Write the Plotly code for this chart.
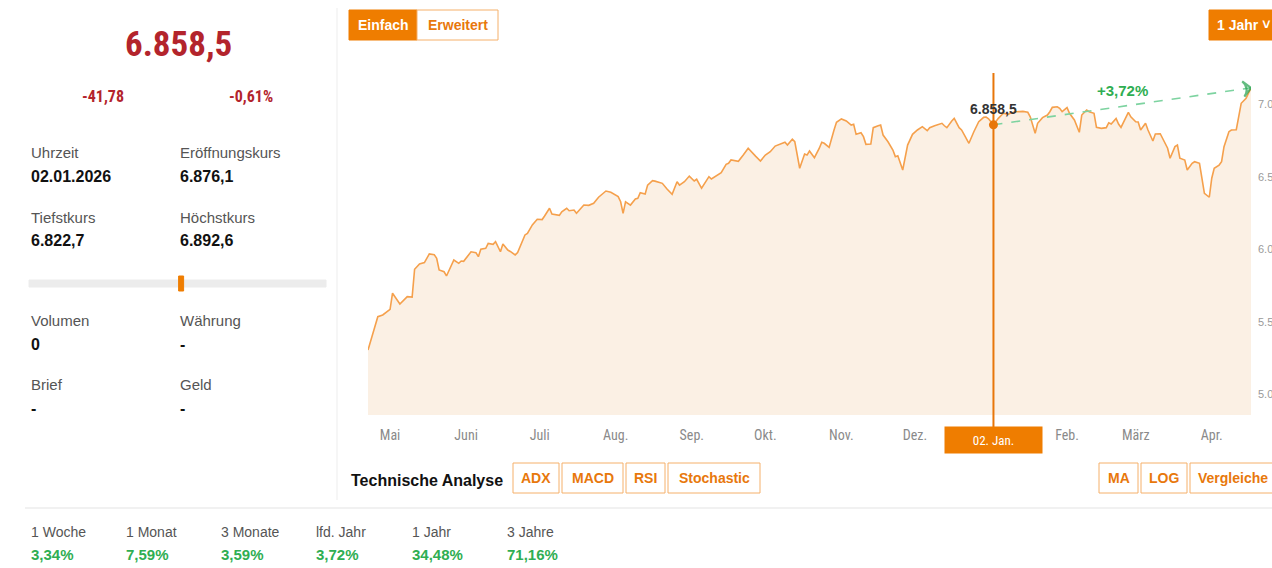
import plotly.graph_objects as go
import pandas as pd

W, H = 1272, 568

# ---------------- data ----------------
BASE_DATE = "2026-01-02"          # crosshair date (02.01.2026)
# trading-day positions, in days relative to 02.01.2026, and closing values
day_offset = [-255, -252, -251, -249, -247, -246, -245, -242, -239, -237, -236, -234, -232, -230, -228, -227,
              -226, -224, -223, -221, -220, -218, -217, -216, -215, -213, -211, -210, -209, -207, -206, -204,
              -203, -201, -200, -198, -197, -195, -194, -191, -190, -188, -186, -184, -183, -181, -180, -177,
              -176, -174, -173, -171, -170, -167, -165, -163, -161, -160, -158, -156, -153, -152, -151, -150,
              -148, -146, -145, -144, -142, -141, -139, -138, -136, -135, -133, -131, -129, -128, -126, -124,
              -122, -121, -119, -116, -115, -113, -111, -109, -108, -107, -105, -104, -102, -100, -97, -95,
              -93, -91, -89, -87, -85, -84, -82, -81, -79, -77, -76, -75, -73, -71, -70, -69,
              -67, -65, -64, -62, -60, -58, -57, -56, -54, -53, -52, -50, -49, -47, -46, -45,
              -43, -41, -40, -39, -37, -35, -33, -31, -30, -29, -27, -26, -24, -22, -21, -20,
              -19, -17, -16, -14, -13, -12, -10, -8, -6, -4, -3, -2, 0, 2, 4, 6,
              7, 9, 12, 14, 15, 17, 18, 20, 22, 23, 24, 26, 27, 28, 30, 31,
              33, 35, 36, 38, 39, 41, 42, 44, 46, 47, 48, 50, 51, 52, 55, 56,
              58, 59, 60, 62, 63, 65, 66, 68, 69, 71, 72, 74, 75, 76, 78, 79,
              81, 82, 84, 85, 86, 88, 89, 90, 92, 93, 94, 96, 97, 99, 100, 101,
              103, 105]
close = [5305, 5490, 5535, 5547, 5574, 5586, 5697, 5623, 5673, 5670, 5862, 5899, 5908, 5968, 5963, 5938,
         5857, 5845, 5816, 5892, 5926, 5903, 5919, 5917, 5938, 5983, 5977, 5949, 6000, 6007, 6041, 6034,
         6052, 5983, 6036, 5995, 5985, 5961, 5977, 6099, 6110, 6168, 6207, 6205, 6230, 6283, 6243, 6234,
         6259, 6283, 6266, 6271, 6248, 6305, 6303, 6317, 6359, 6374, 6402, 6393, 6363, 6328, 6248, 6328,
         6305, 6347, 6352, 6390, 6381, 6443, 6473, 6470, 6459, 6455, 6414, 6379, 6466, 6443, 6466, 6505,
         6471, 6483, 6421, 6501, 6485, 6505, 6528, 6586, 6593, 6616, 6609, 6607, 6650, 6697, 6643, 6609,
         6650, 6673, 6712, 6724, 6738, 6719, 6759, 6742, 6559, 6657, 6650, 6678, 6632, 6697, 6738, 6731,
         6703, 6823, 6876, 6899, 6885, 6857, 6862, 6793, 6804, 6777, 6724, 6726, 6839, 6852, 6857, 6788,
         6742, 6685, 6639, 6645, 6547, 6719, 6793, 6823, 6834, 6846, 6818, 6839, 6852, 6862, 6869, 6852,
         6839, 6885, 6903, 6839, 6823, 6793, 6731, 6811, 6880, 6910, 6912, 6900.3, 6858.5, 6903, 6938, 6931,
         6940, 6949, 6951, 6945, 6914, 6800, 6869, 6908, 6926, 6949, 6979, 6983, 6972, 6949, 6977, 6938,
         6892, 6807, 6926, 6961, 6949, 6938, 6841, 6834, 6839, 6873, 6864, 6903, 6864, 6841, 6945, 6914,
         6880, 6878, 6823, 6869, 6823, 6747, 6795, 6797, 6766, 6697, 6628, 6708, 6719, 6628, 6616, 6547,
         6593, 6604, 6593, 6501, 6386, 6359, 6490, 6559, 6581, 6604, 6708, 6811, 6823, 6825, 6914, 7007,
         7041, 7113.6]

month_ticks = ["2025-05-01", "2025-06-01", "2025-07-01", "2025-08-01", "2025-09-01", "2025-10-01",
               "2025-11-01", "2025-12-01", "2026-02-01", "2026-03-01", "2026-04-01"]
month_labels = ["Mai", "Juni", "Juli", "Aug.", "Sep.", "Okt.", "Nov.", "Dez.", "Feb.", "März", "Apr."]
y_ticks = [5000, 5500, 6000, 6500, 7000]
# right-hand axis labels, cut off by the window edge in the original ("7.0…")
y_labels = ["5.0", "5.5", "6.0", "6.5", "7.0"]

last_price = 6858.5
change_abs = -41.78
change_pct = -0.61
quote_time = "02.01.2026"
open_price = 6876.1
low_price = 6822.7
high_price = 6892.6
volume = "0"
currency = "-"
ask = "-"
bid = "-"

perf_labels = ["1 Woche", "1 Monat", "3 Monate", "lfd. Jahr", "1 Jahr", "3 Jahre"]
perf_values = [3.34, 7.59, 3.59, 3.72, 34.48, 71.16]

# ---------------- helpers ----------------
def de(v, d=1):
    s = f"{v:,.{d}f}"
    return s.replace(",", "X").replace(".", ",").replace("X", ".")

def X(px):
    return px / W

def Y(py):
    return 1 - py / H

ORANGE = "#ef7d00"
ORANGE_T = "#e8780c"
ORANGE_B = "#f5b06a"
RED = "#b3242c"
GREEN = "#2fae52"
SANS = "Liberation Sans, Arial, sans-serif"
NARROW = "Liberation Sans Narrow, Roboto Condensed, DejaVu Sans Condensed, Liberation Sans, sans-serif"

dates = pd.Timestamp(BASE_DATE) + pd.to_timedelta(day_offset, unit="D")
base = pd.Timestamp(BASE_DATE)
base_val = close[day_offset.index(0)]

annotations = []
shapes = []

def txt(x, y, s, size=15, color="#555", weight="normal", anchor="left", family=SANS):
    annotations.append(dict(x=X(x), y=Y(y), xref="paper", yref="paper", text=s, showarrow=False,
                            xanchor=anchor, yanchor="middle",
                            font=dict(size=size, color=color, family=family, weight=weight)))

def rect(x0, y0, x1, y1, fill, line=None, lw=1):
    shapes.append(dict(type="rect", xref="paper", yref="paper", x0=X(x0), x1=X(x1), y0=Y(y0), y1=Y(y1),
                       fillcolor=fill, line=dict(color=line or fill, width=lw), layer="above"))

# ---------------- figure ----------------
fig = go.Figure()
fig.add_trace(go.Scatter(x=dates, y=close, mode="lines", fill="tozeroy",
                         fillcolor="#fbf0e4", line=dict(color="#f5a04c", width=1.6),
                         hoverinfo="skip"))

# performance arrow from crosshair point to last value
perf = (close[-1] / base_val - 1) * 100
fig.add_trace(go.Scatter(x=[base, dates[-1]], y=[base_val, close[-1]], mode="lines+markers",
                         line=dict(color="#7dd3a0", width=1.6, dash="dash"),
                         marker=dict(symbol=["circle", "arrow-wide-open"], size=[0, 11], color="#22a04b",
                                     angleref="previous", line=dict(width=2.2, color="#22a04b")),
                         hoverinfo="skip"))
# crosshair point
fig.add_trace(go.Scatter(x=[base], y=[base_val], mode="markers",
                         marker=dict(size=9, color="#e8760a"), hoverinfo="skip"))

# crosshair line
shapes.append(dict(type="line", xref="x", yref="paper", x0=base, x1=base, y0=Y(428), y1=Y(73),
                   line=dict(color="#e8760a", width=2)))
annotations.append(dict(x=base, y=base_val, xref="x", yref="y", text=de(base_val, 1), showarrow=False,
                        yshift=16, xanchor="center", yanchor="middle",
                        font=dict(size=14, color="#333", family=SANS, weight="bold")))
annotations.append(dict(x=base, y=Y(440), xref="x", yref="paper", text="02. Jan.", showarrow=False,
                        bgcolor=ORANGE, width=95, height=24, xanchor="center", yanchor="middle",
                        font=dict(size=13, color="white", family=NARROW)))
txt(1122, 91, ("+" if perf >= 0 else "") + de(perf, 2) + "%", size=15, color=GREEN, weight="bold",
    anchor="center")

# ---- left panel ----
txt(178, 45, de(last_price, 1), size=35, color=RED, weight="bold", anchor="center", family=NARROW)
txt(103, 96, de(change_abs, 2), size=16, color=RED, weight="bold", anchor="center", family=NARROW)
txt(251, 96, de(change_pct, 2) + "%", size=16, color=RED, weight="bold", anchor="center", family=NARROW)

rows = [
    (153, ("Uhrzeit", quote_time), ("Eröffnungskurs", de(open_price, 1))),
    (217, ("Tiefstkurs", de(low_price, 1)), ("Höchstkurs", de(high_price, 1))),
    (320, ("Volumen", volume), ("Währung", currency)),
    (384, ("Brief", ask), ("Geld", bid)),
]
for y, left, right in rows:
    for x, (lab, val) in ((29, left), (178, right)):
        txt(x, y, lab, size=15, color="#555")
        txt(x, y + 24, val, size=16, color="#111", weight="bold")

# day range bar
rect(29, 280, 326, 287, "#ececec")
pos = 29 + (last_price - low_price) / (high_price - low_price) * (326 - 29)
rect(pos - 2.5, 276, pos + 2.5, 291, ORANGE)

# separators
shapes.append(dict(type="line", xref="paper", yref="paper", x0=X(337), x1=X(337), y0=Y(8), y1=Y(500),
                   line=dict(color="#ededed", width=1)))
shapes.append(dict(type="line", xref="paper", yref="paper", x0=X(25), x1=1, y0=Y(508), y1=Y(508),
                   line=dict(color="#ededed", width=1.5)))

# performance row
perf_x = [29, 124, 219, 314, 410, 505]
for x, lab, val in zip(perf_x, perf_labels, perf_values):
    txt(x, 532, lab, size=14, color="#555")
    txt(x, 554, de(val, 2) + "%", size=15, color=GREEN, weight="bold")

# ---- buttons ----
rect(349, 10, 417, 40, ORANGE)
txt(383, 25, "Einfach", size=14, color="white", weight="bold", anchor="center")
rect(417, 10, 498, 40, "white", ORANGE_B)
txt(457.5, 25, "Erweitert", size=14, color=ORANGE_T, weight="bold", anchor="center")
rect(1209, 10, 1273, 40, ORANGE)
txt(1215, 25, "1 Jahr ˅", size=14, color="white", weight="bold")

txt(349, 480, "Technische Analyse", size=16, color="#111", weight="bold")
for x0, x1, lab in [(513, 559, "ADX"), (562, 623, "MACD"), (626, 665, "RSI"), (668, 760, "Stochastic"),
                    (1099, 1138, "MA"), (1141, 1187, "LOG")]:
    rect(x0, 463, x1, 493, "white", ORANGE_B)
    txt((x0 + x1) / 2, 478, lab, size=14, color=ORANGE_T, weight="bold", anchor="center")
rect(1190, 463, 1273, 493, "white", ORANGE_B)
txt(1196, 478, "Vergleiche", size=14, color=ORANGE_T, weight="bold")

fig.update_layout(
    width=W, height=H, autosize=False,
    margin=dict(l=0, r=0, t=0, b=0),
    paper_bgcolor="white", plot_bgcolor="white",
    showlegend=False, hovermode=False,
    xaxis=dict(type="date", range=[dates[0], dates[-1]], domain=[X(368), X(1251)],
               tickvals=month_ticks, ticktext=month_labels, showgrid=False, zeroline=False,
               showline=False, ticks="", ticklabelstandoff=10,
               tickfont=dict(size=14, color="#8a8a8a", family=NARROW), fixedrange=True),
    yaxis=dict(range=[4857, 7216], domain=[Y(415), Y(73)], side="right",
               tickvals=y_ticks, ticktext=y_labels, showgrid=False, zeroline=False, showline=False,
               ticks="", ticklabelstandoff=6,
               tickfont=dict(size=11, color="#9a9a9a", family=SANS), fixedrange=True),
    shapes=shapes,
    annotations=annotations,
)

fig.write_html("out.html", config={"displayModeBar": False},
               post_script="document.body.style.margin='0';document.body.style.overflow='hidden';")
